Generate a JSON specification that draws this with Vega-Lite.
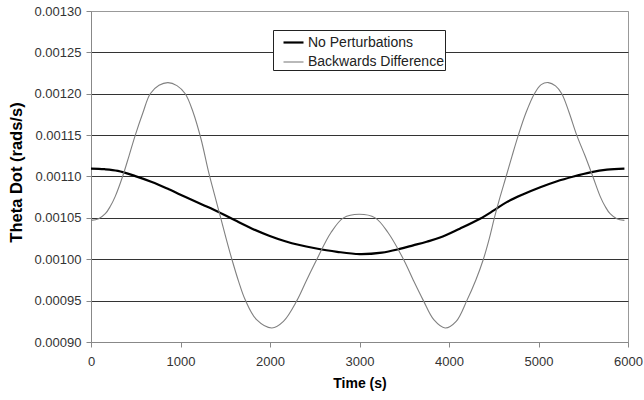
{
  "$schema": "https://vega.github.io/schema/vega-lite/v6.json",
  "autosize": "none",
  "width": 537,
  "height": 331,
  "padding": {"left": 91, "top": 11, "right": 16, "bottom": 58},
  "background": "white",
  "config": {
    "font": "Liberation Sans",
    "view": {"stroke": "#999999", "strokeWidth": 1}
  },
  "data": {
    "values": [
      {"t": 0, "v": 0.0011095, "series": "No Perturbations"},
      {"t": 150, "v": 0.0011088, "series": "No Perturbations"},
      {"t": 300, "v": 0.0011068, "series": "No Perturbations"},
      {"t": 495, "v": 0.0011005, "series": "No Perturbations"},
      {"t": 680, "v": 0.0010934, "series": "No Perturbations"},
      {"t": 870, "v": 0.0010845, "series": "No Perturbations"},
      {"t": 1050, "v": 0.0010755, "series": "No Perturbations"},
      {"t": 1240, "v": 0.0010662, "series": "No Perturbations"},
      {"t": 1425, "v": 0.0010571, "series": "No Perturbations"},
      {"t": 1610, "v": 0.001047, "series": "No Perturbations"},
      {"t": 1800, "v": 0.001037, "series": "No Perturbations"},
      {"t": 1990, "v": 0.0010285, "series": "No Perturbations"},
      {"t": 2170, "v": 0.0010218, "series": "No Perturbations"},
      {"t": 2330, "v": 0.0010172, "series": "No Perturbations"},
      {"t": 2490, "v": 0.0010136, "series": "No Perturbations"},
      {"t": 2750, "v": 0.001009, "series": "No Perturbations"},
      {"t": 3000, "v": 0.0010062, "series": "No Perturbations"},
      {"t": 3250, "v": 0.001008, "series": "No Perturbations"},
      {"t": 3450, "v": 0.0010125, "series": "No Perturbations"},
      {"t": 3600, "v": 0.0010168, "series": "No Perturbations"},
      {"t": 3750, "v": 0.0010212, "series": "No Perturbations"},
      {"t": 3900, "v": 0.0010262, "series": "No Perturbations"},
      {"t": 4120, "v": 0.001037, "series": "No Perturbations"},
      {"t": 4347, "v": 0.001049, "series": "No Perturbations"},
      {"t": 4500, "v": 0.001059, "series": "No Perturbations"},
      {"t": 4645, "v": 0.001069, "series": "No Perturbations"},
      {"t": 4830, "v": 0.0010785, "series": "No Perturbations"},
      {"t": 5020, "v": 0.001087, "series": "No Perturbations"},
      {"t": 5200, "v": 0.001094, "series": "No Perturbations"},
      {"t": 5392, "v": 0.0011, "series": "No Perturbations"},
      {"t": 5580, "v": 0.001105, "series": "No Perturbations"},
      {"t": 5765, "v": 0.0011083, "series": "No Perturbations"},
      {"t": 5960, "v": 0.0011095, "series": "No Perturbations"},
      {"t": 0, "v": 0.001047, "series": "Backwards Difference"},
      {"t": 85, "v": 0.001049, "series": "Backwards Difference"},
      {"t": 160, "v": 0.001055, "series": "Backwards Difference"},
      {"t": 216, "v": 0.001064, "series": "Backwards Difference"},
      {"t": 271, "v": 0.001076, "series": "Backwards Difference"},
      {"t": 353, "v": 0.0011, "series": "Backwards Difference"},
      {"t": 425, "v": 0.001125, "series": "Backwards Difference"},
      {"t": 495, "v": 0.00115, "series": "Backwards Difference"},
      {"t": 580, "v": 0.001177, "series": "Backwards Difference"},
      {"t": 662, "v": 0.0012, "series": "Backwards Difference"},
      {"t": 760, "v": 0.0012102, "series": "Backwards Difference"},
      {"t": 860, "v": 0.0012135, "series": "Backwards Difference"},
      {"t": 960, "v": 0.0012098, "series": "Backwards Difference"},
      {"t": 1053, "v": 0.0012, "series": "Backwards Difference"},
      {"t": 1140, "v": 0.001178, "series": "Backwards Difference"},
      {"t": 1230, "v": 0.001145, "series": "Backwards Difference"},
      {"t": 1315, "v": 0.001105, "series": "Backwards Difference"},
      {"t": 1380, "v": 0.001078, "series": "Backwards Difference"},
      {"t": 1444, "v": 0.001052, "series": "Backwards Difference"},
      {"t": 1510, "v": 0.001025, "series": "Backwards Difference"},
      {"t": 1574, "v": 0.001, "series": "Backwards Difference"},
      {"t": 1650, "v": 0.000973, "series": "Backwards Difference"},
      {"t": 1723, "v": 0.000951, "series": "Backwards Difference"},
      {"t": 1850, "v": 0.000927, "series": "Backwards Difference"},
      {"t": 2021, "v": 0.000917, "series": "Backwards Difference"},
      {"t": 2150, "v": 0.000925, "series": "Backwards Difference"},
      {"t": 2300, "v": 0.00095, "series": "Backwards Difference"},
      {"t": 2410, "v": 0.000975, "series": "Backwards Difference"},
      {"t": 2524, "v": 0.001, "series": "Backwards Difference"},
      {"t": 2680, "v": 0.001032, "series": "Backwards Difference"},
      {"t": 2821, "v": 0.00105, "series": "Backwards Difference"},
      {"t": 2996, "v": 0.0010543, "series": "Backwards Difference"},
      {"t": 3175, "v": 0.00105, "series": "Backwards Difference"},
      {"t": 3320, "v": 0.001032, "series": "Backwards Difference"},
      {"t": 3491, "v": 0.001, "series": "Backwards Difference"},
      {"t": 3600, "v": 0.000975, "series": "Backwards Difference"},
      {"t": 3714, "v": 0.00095, "series": "Backwards Difference"},
      {"t": 3830, "v": 0.000927, "series": "Backwards Difference"},
      {"t": 3957, "v": 0.000917, "series": "Backwards Difference"},
      {"t": 4080, "v": 0.000925, "series": "Backwards Difference"},
      {"t": 4199, "v": 0.00095, "series": "Backwards Difference"},
      {"t": 4300, "v": 0.000975, "series": "Backwards Difference"},
      {"t": 4384, "v": 0.001, "series": "Backwards Difference"},
      {"t": 4450, "v": 0.001025, "series": "Backwards Difference"},
      {"t": 4507, "v": 0.00105, "series": "Backwards Difference"},
      {"t": 4570, "v": 0.001075, "series": "Backwards Difference"},
      {"t": 4638, "v": 0.0011, "series": "Backwards Difference"},
      {"t": 4705, "v": 0.001125, "series": "Backwards Difference"},
      {"t": 4775, "v": 0.00115, "series": "Backwards Difference"},
      {"t": 4860, "v": 0.001177, "series": "Backwards Difference"},
      {"t": 4954, "v": 0.0012, "series": "Backwards Difference"},
      {"t": 5030, "v": 0.001211, "series": "Backwards Difference"},
      {"t": 5110, "v": 0.0012135, "series": "Backwards Difference"},
      {"t": 5190, "v": 0.0012095, "series": "Backwards Difference"},
      {"t": 5260, "v": 0.0012, "series": "Backwards Difference"},
      {"t": 5340, "v": 0.001178, "series": "Backwards Difference"},
      {"t": 5427, "v": 0.00115, "series": "Backwards Difference"},
      {"t": 5520, "v": 0.001125, "series": "Backwards Difference"},
      {"t": 5607, "v": 0.0011, "series": "Backwards Difference"},
      {"t": 5689, "v": 0.001076, "series": "Backwards Difference"},
      {"t": 5744, "v": 0.001064, "series": "Backwards Difference"},
      {"t": 5800, "v": 0.001055, "series": "Backwards Difference"},
      {"t": 5875, "v": 0.001049, "series": "Backwards Difference"},
      {"t": 5960, "v": 0.001047, "series": "Backwards Difference"}
    ]
  },
  "mark": {"type": "line", "interpolate": "catmull-rom"},
  "encoding": {
    "x": {
      "field": "t",
      "type": "quantitative",
      "title": "Time (s)",
      "scale": {"domain": [0, 6000], "nice": false, "zero": false},
      "axis": {
        "values": [0, 1000, 2000, 3000, 4000, 5000, 6000],
        "format": "d",
        "grid": false,
        "domainColor": "#888888",
        "tickColor": "#888888",
        "tickSize": 5,
        "labelFontSize": 13,
        "labelColor": "#333333",
        "labelPadding": 8,
        "labelFlush": false,
        "titleFontSize": 14,
        "titleFontWeight": "bold",
        "titleColor": "#000000",
        "titleBaseline": "middle",
        "titleY": 41
      }
    },
    "y": {
      "field": "v",
      "type": "quantitative",
      "title": "Theta Dot (rads/s)",
      "scale": {"domain": [0.0009, 0.0013], "nice": false, "zero": false},
      "axis": {
        "values": [0.0009, 0.00095, 0.001, 0.00105, 0.0011, 0.00115, 0.0012, 0.00125, 0.0013],
        "format": ".5f",
        "grid": true,
        "gridColor": {"condition": {"test": "datum.value > 0.001299 || datum.value < 0.000901", "value": "#999999"}, "value": "#333333"},
        "gridWidth": 1,
        "domainColor": "#888888",
        "tickColor": "#888888",
        "tickSize": 5,
        "labelFontSize": 13,
        "labelColor": "#333333",
        "labelPadding": 5,
        "labelFlush": false,
        "titleFontSize": 16.5,
        "titleFontWeight": "bold",
        "titleColor": "#000000",
        "titleAngle": -90,
        "titleAlign": "center",
        "titleBaseline": "middle",
        "titleX": -75,
        "titleY": 161
      }
    },
    "color": {
      "field": "series",
      "type": "nominal",
      "scale": {"domain": ["No Perturbations", "Backwards Difference"], "range": ["#000000", "#808080"]},
      "legend": {
        "title": null,
        "orient": "none",
        "legendX": 182,
        "legendY": 19,
        "direction": "vertical",
        "fillColor": "white",
        "strokeColor": "#222222",
        "padding": 1,
        "symbolOffset": 8,
        "symbolType": "stroke",
        "symbolSize": 400,
        "symbolStrokeWidth": 1.5,
        "labelFontSize": 14,
        "labelColor": "#222222",
        "labelOffset": 3,
        "rowPadding": 1
      }
    },
    "strokeWidth": {
      "field": "series",
      "type": "nominal",
      "scale": {"domain": ["No Perturbations", "Backwards Difference"], "range": [2.2, 1.1]},
      "legend": null
    }
  }
}
